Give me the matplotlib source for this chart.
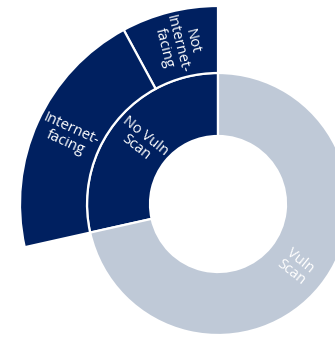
import numpy as np
import matplotlib
matplotlib.use("Agg")
import matplotlib.pyplot as plt

# shares of all assets
inner_labels = ["No Vuln\nScan", "Vuln\nScan"]
inner_values = [28.5, 71.5]
outer_labels = ["Not\nInternet-\nfacing", "Internet-\nfacing"]
outer_values = [7.9, 20.6]

NAVY = "#002060"
GREY = "#BFC9D7"

fig = plt.figure(figsize=(3.35, 3.38), dpi=100)
ax = fig.add_axes([0, 0, 1, 1])

center = (218, 134)
r_hole, r_mid, r_out = 68, 131, 198

# inner ring
ax.pie(inner_values, radius=r_mid, center=center, startangle=90,
       colors=[NAVY, GREY],
       wedgeprops=dict(width=r_mid - r_hole, edgecolor="white", linewidth=1.6))

# outer ring only over the "No Vuln Scan" part
rest = sum(inner_values) - sum(outer_values)
w_out, _ = ax.pie(outer_values + [rest], radius=r_out, center=center, startangle=90,
                  colors=[NAVY, NAVY, "none"],
                  wedgeprops=dict(width=r_out - r_mid, edgecolor="white", linewidth=1.6))
w_out[-1].set_visible(False)


def put_labels(labels, values, radius, total):
    start = 90.0
    for lab, v in zip(labels, values):
        mid = start + 360.0 * v / total / 2
        start += 360.0 * v / total
        a = np.deg2rad(mid)
        rot = mid + 180 if 90 < mid % 360 < 270 else mid
        ax.text(center[0] + radius * np.cos(a), center[1] + radius * np.sin(a), lab,
                rotation=rot, rotation_mode="anchor", ha="center", va="center",
                color="white", fontsize=10.5, family="Open Sans", linespacing=0.95)


total = sum(inner_values)
put_labels(inner_labels, inner_values, (r_hole + r_mid) / 2, total)
put_labels(outer_labels, outer_values, (r_mid + r_out) / 2, total)

ax.set_xlim(0, 335)
ax.set_ylim(0, 338)
ax.set_aspect("equal")
ax.axis("off")

fig.savefig("out.png", dpi=100)
